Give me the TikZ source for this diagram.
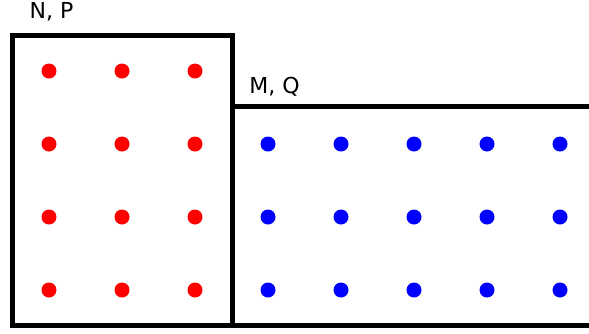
\documentclass[tikz,border=0pt]{standalone}
\usepackage{fontspec}
\setmainfont{DejaVu Sans}
\begin{document}
\begin{tikzpicture}[x=1pt,y=-1pt,
  wall/.style={line width=5.5pt,draw=black},
  reddot/.style={circle,fill=red,inner sep=0pt,minimum size=15pt},
  bluedot/.style={circle,fill=blue,inner sep=0pt,minimum size=15pt},
  lbl/.style={font=\fontsize{22}{26}\selectfont,inner sep=0pt,anchor=base}]
\useasboundingbox (0,0) rectangle (589,333);
\draw[wall] (12.5,35.5) rectangle (232.5,325.5);
\draw[wall] (232.5,106.5) -- (592,106.5);
\draw[wall] (232.5,325.5) -- (592,325.5);
\foreach \x in {49,122,195}
  \foreach \y in {71,144,217,290}
    \node[reddot] (r\x-\y) at (\x,\y) {};
\foreach \x in {268,341,414,487,560}
  \foreach \y in {144,217,290}
    \node[bluedot] (b\x-\y) at (\x,\y) {};
\node[lbl] (np) at (51.5,18.5) {N, P};
\node[lbl] (mq) at (274.5,93.5) {M, Q};
\end{tikzpicture}
\end{document}
